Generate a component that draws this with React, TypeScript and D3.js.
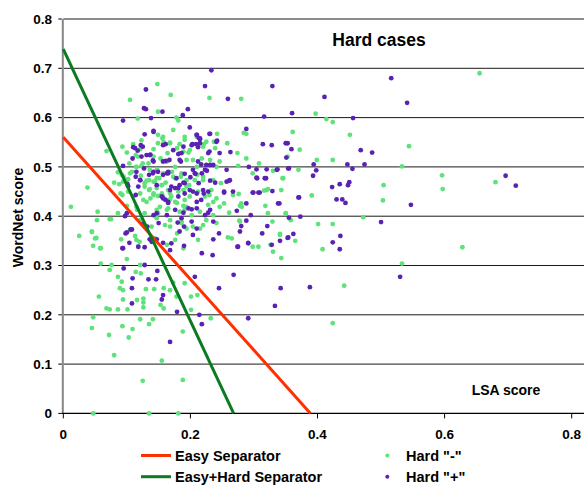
import React, { useEffect, useRef } from 'react'
import * as d3 from 'd3'

// LSA score (x) / WordNet score (y)
const hardMinus: [number, number][] = [
  [0.148,0.668],[0.169,0.646],[0.230,0.640],[0.280,0.638],[0.105,0.636],[0.149,0.612],[0.178,0.600],[0.117,0.598],
  [0.181,0.594],[0.173,0.575],[0.284,0.569],[0.288,0.567],[0.361,0.571],[0.149,0.565],[0.242,0.567],[0.191,0.561],
  [0.156,0.558],[0.123,0.554],[0.158,0.550],[0.093,0.541],[0.110,0.546],[0.168,0.549],[0.183,0.546],[0.221,0.546],
  [0.237,0.551],[0.258,0.548],[0.100,0.529],[0.142,0.536],[0.179,0.538],[0.189,0.531],[0.068,0.532],[0.274,0.528],
  [0.164,0.528],[0.197,0.529],[0.288,0.517],[0.353,0.521],[0.117,0.521],[0.153,0.517],[0.204,0.514],[0.246,0.511],
  [0.275,0.502],[0.308,0.507],[0.104,0.507],[0.123,0.502],[0.086,0.489],[0.147,0.494],[0.171,0.490],[0.211,0.484],
  [0.330,0.492],[0.370,0.494],[0.095,0.480],[0.102,0.475],[0.151,0.477],[0.185,0.480],[0.220,0.473],[0.346,0.477],
  [0.038,0.458],[0.080,0.468],[0.088,0.465],[0.135,0.473],[0.142,0.470],[0.161,0.468],[0.198,0.463],[0.248,0.467],
  [0.320,0.453],[0.343,0.453],[0.093,0.443],[0.147,0.457],[0.155,0.446],[0.181,0.450],[0.230,0.443],[0.267,0.443],
  [0.126,0.433],[0.137,0.436],[0.168,0.434],[0.191,0.433],[0.236,0.429],[0.253,0.426],[0.278,0.421],[0.054,0.409],
  [0.012,0.419],[0.116,0.413],[0.163,0.413],[0.246,0.419],[0.281,0.419],[0.322,0.406],
  [0.655,0.690],[0.397,0.608],[0.414,0.597],[0.424,0.591],[0.451,0.565],[0.372,0.535],[0.544,0.542],[0.399,0.514],
  [0.424,0.514],[0.533,0.501],[0.345,0.477],[0.596,0.483],[0.680,0.469],[0.504,0.463],[0.597,0.455],[0.391,0.442],
  [0.503,0.432],[0.350,0.405],[0.358,0.392],[0.472,0.398],[0.401,0.384],[0.424,0.384],[0.365,0.350],[0.408,0.333],
  [0.343,0.315],[0.628,0.337],[0.533,0.304],[0.442,0.259],[0.424,0.183],
  [0.053,0.392],[0.073,0.394],[0.025,0.360],[0.045,0.368],[0.052,0.356],[0.047,0.340],[0.059,0.335],[0.091,0.353],
  [0.113,0.360],[0.120,0.348],[0.212,0.352],[0.278,0.389],[0.298,0.338],[0.330,0.328],[0.341,0.362],[0.307,0.338],
  [0.059,0.304],[0.076,0.301],[0.073,0.291],[0.086,0.277],[0.092,0.267],[0.089,0.254],[0.094,0.250],[0.056,0.237],
  [0.068,0.213],[0.073,0.211],[0.094,0.231],[0.086,0.211],[0.101,0.211],[0.100,0.313],[0.114,0.287],[0.122,0.284],
  [0.121,0.301],[0.116,0.230],[0.126,0.233],[0.126,0.225],[0.130,0.252],[0.143,0.252],[0.158,0.254],[0.153,0.220],
  [0.158,0.213],[0.168,0.250],[0.173,0.265],[0.178,0.237],[0.191,0.264],[0.201,0.237],[0.201,0.210],[0.211,0.240],
  [0.232,0.193],[0.047,0.195],[0.045,0.173],[0.072,0.159],[0.103,0.154],[0.093,0.177],[0.109,0.171],[0.121,0.191],
  [0.135,0.181],[0.141,0.191],[0.126,0.215],[0.188,0.166],[0.080,0.118],[0.155,0.107],[0.125,0.066],[0.188,0.068],
  [0.047,0.000],[0.135,0.000],[0.181,0.000],
  [0.298,0.487],[0.316,0.452],[0.322,0.455],[0.276,0.445],[0.318,0.421],[0.350,0.406],[0.329,0.389],[0.341,0.364],
  [0.326,0.342],[0.265,0.355],[0.259,0.357],[0.277,0.391],[0.261,0.407],[0.280,0.426],
  [0.045,0.369],[0.050,0.355],[0.058,0.335],[0.075,0.394],[0.086,0.406],[0.092,0.484],[0.094,0.470],[0.090,0.446],
  [0.100,0.421],[0.105,0.372],[0.115,0.352],[0.128,0.467],[0.135,0.453],[0.142,0.446],[0.149,0.441],[0.160,0.434],
  [0.170,0.440],[0.179,0.427],[0.189,0.421],[0.147,0.413],[0.168,0.379],[0.179,0.365],[0.163,0.342],[0.144,0.355],
  [0.118,0.338],[0.105,0.487],[0.115,0.500],[0.136,0.494],[0.147,0.477],[0.155,0.463],[0.165,0.453],[0.176,0.477],
  [0.186,0.487],[0.194,0.460],[0.191,0.413],[0.186,0.389],[0.194,0.375],[0.176,0.352],[0.189,0.335],
  [0.114,0.524],[0.121,0.536],[0.125,0.507],[0.115,0.500],[0.108,0.490],[0.122,0.482],[0.131,0.472],[0.128,0.460],
  [0.136,0.455],[0.144,0.470],[0.148,0.494],[0.157,0.487],[0.149,0.548],[0.157,0.561],[0.168,0.548],[0.163,0.511],
  [0.176,0.500],[0.173,0.480],[0.155,0.463],[0.142,0.443],[0.157,0.440],[0.168,0.446],[0.152,0.419],[0.165,0.416],
  [0.176,0.429],[0.183,0.409],[0.194,0.419],[0.202,0.402],[0.215,0.409],[0.225,0.392],[0.236,0.402],[0.220,0.382],
  [0.204,0.379],[0.186,0.386],[0.168,0.392],[0.147,0.396],[0.139,0.379],[0.189,0.453],[0.199,0.440],[0.212,0.450],
  [0.223,0.440],[0.233,0.453],[0.241,0.436],[0.228,0.423],[0.194,0.473],[0.207,0.473],[0.220,0.480],[0.236,0.473],
  [0.210,0.500],[0.225,0.494],[0.241,0.500],[0.194,0.514],[0.218,0.517],[0.231,0.514],[0.239,0.538],[0.220,0.541],
  [0.199,0.534],[0.183,0.528],[0.191,0.555],[0.210,0.561],[0.225,0.551],[0.142,0.521],[0.134,0.507],[0.100,0.473],
  [0.102,0.450],[0.110,0.440],[0.121,0.446],[0.131,0.429],[0.115,0.419],[0.128,0.406],[0.149,0.406],[0.160,0.382],
  [0.121,0.392],[0.215,0.375],[0.241,0.386]
]

const hardPlus: [number, number][] = [
  [0.130,0.657],[0.223,0.664],[0.233,0.696],[0.259,0.638],[0.329,0.664],[0.127,0.619],[0.130,0.617],[0.156,0.612],
  [0.196,0.617],[0.188,0.605],[0.094,0.594],[0.138,0.599],[0.316,0.602],[0.360,0.609],[0.199,0.580],[0.288,0.577],
  [0.142,0.573],[0.128,0.566],[0.231,0.567],[0.210,0.565],[0.213,0.559],[0.215,0.556],[0.242,0.553],[0.314,0.546],
  [0.328,0.544],[0.350,0.548],[0.353,0.548],[0.161,0.546],[0.203,0.546],[0.110,0.540],[0.113,0.538],[0.117,0.533],
  [0.173,0.534],[0.212,0.540],[0.230,0.531],[0.246,0.528],[0.263,0.530],[0.131,0.524],[0.137,0.525],[0.181,0.526],
  [0.109,0.517],[0.123,0.521],[0.141,0.513],[0.161,0.512],[0.167,0.514],[0.185,0.511],[0.217,0.505],[0.225,0.504],
  [0.236,0.504],[0.292,0.500],[0.304,0.495],[0.320,0.495],[0.336,0.494],[0.354,0.497],[0.127,0.497],[0.115,0.490],
  [0.142,0.490],[0.165,0.487],[0.191,0.486],[0.204,0.494],[0.226,0.492],[0.257,0.494],[0.262,0.473],[0.135,0.484],
  [0.157,0.484],[0.178,0.477],[0.200,0.479],[0.208,0.486],[0.231,0.472],[0.305,0.477],[0.319,0.477],[0.101,0.465],
  [0.189,0.468],[0.213,0.467],[0.239,0.468],[0.257,0.470],[0.329,0.451],[0.114,0.443],[0.168,0.453],[0.176,0.457],
  [0.204,0.450],[0.221,0.446],[0.253,0.448],[0.299,0.448],[0.309,0.448],[0.340,0.426],[0.370,0.438],[0.161,0.433],
  [0.210,0.429],[0.217,0.433],[0.288,0.426],[0.100,0.406],[0.147,0.406],[0.189,0.407],[0.202,0.414],[0.228,0.407],
  [0.273,0.411],[0.295,0.402],
  [0.516,0.680],[0.411,0.642],[0.541,0.630],[0.456,0.599],[0.359,0.536],[0.468,0.534],[0.486,0.529],[0.351,0.519],
  [0.394,0.505],[0.447,0.505],[0.474,0.505],[0.355,0.497],[0.455,0.496],[0.398,0.493],[0.393,0.482],[0.696,0.482],
  [0.712,0.462],[0.423,0.459],[0.435,0.465],[0.450,0.469],[0.448,0.463],[0.371,0.438],[0.430,0.434],[0.439,0.434],
  [0.444,0.427],[0.547,0.423],[0.355,0.397],[0.373,0.399],[0.500,0.388],[0.362,0.364],[0.353,0.356],[0.424,0.347],
  [0.436,0.360],[0.435,0.333],[0.530,0.277],[0.388,0.256],[0.342,0.254],
  [0.097,0.400],[0.106,0.373],[0.098,0.365],[0.104,0.346],[0.093,0.335],[0.118,0.338],[0.125,0.384],[0.132,0.379],
  [0.136,0.353],[0.139,0.348],[0.147,0.353],[0.150,0.386],[0.157,0.346],[0.170,0.345],[0.180,0.387],[0.190,0.379],
  [0.190,0.340],[0.204,0.362],[0.218,0.325],[0.235,0.321],[0.245,0.365],[0.236,0.353],[0.274,0.338],[0.278,0.369],
  [0.291,0.345],[0.313,0.365],[0.328,0.342],[0.341,0.350],[0.354,0.357],
  [0.095,0.294],[0.109,0.274],[0.108,0.254],[0.108,0.223],[0.128,0.301],[0.134,0.272],[0.148,0.289],[0.146,0.272],
  [0.157,0.240],[0.155,0.231],[0.179,0.206],[0.214,0.200],[0.218,0.181],[0.245,0.254],[0.207,0.277],[0.268,0.281],
  [0.333,0.218],[0.291,0.193],[0.168,0.145],
  [0.304,0.478],[0.317,0.477],[0.337,0.495],[0.307,0.448],[0.298,0.448],[0.267,0.450],[0.253,0.450],[0.261,0.472],
  [0.338,0.426],[0.321,0.380],[0.275,0.338],[0.291,0.346],[0.280,0.380],[0.288,0.391],
  [0.094,0.502],[0.102,0.461],[0.121,0.473],[0.149,0.490],[0.163,0.487],[0.155,0.440],[0.165,0.427],[0.183,0.463],
  [0.191,0.446],[0.100,0.367],[0.094,0.335],[0.108,0.373],[0.183,0.369],[0.168,0.331],[0.128,0.337],
  [0.142,0.571],[0.122,0.544],[0.125,0.541],[0.136,0.524],[0.142,0.511],[0.157,0.544],[0.186,0.528],[0.183,0.514],
  [0.189,0.541],[0.202,0.544],[0.209,0.546],[0.215,0.548],[0.210,0.565],[0.215,0.558],[0.230,0.567],[0.241,0.551],
  [0.228,0.528],[0.141,0.487],[0.157,0.511],[0.165,0.490],[0.121,0.473],[0.118,0.460],[0.114,0.480],[0.147,0.463],
  [0.170,0.460],[0.181,0.457],[0.191,0.467],[0.199,0.453],[0.207,0.487],[0.218,0.487],[0.223,0.494],[0.231,0.504],
  [0.212,0.511],[0.157,0.436],[0.165,0.429],[0.181,0.440],[0.176,0.413],[0.163,0.402],[0.197,0.416],[0.210,0.416],
  [0.223,0.402],[0.231,0.413],[0.210,0.446],[0.220,0.453],[0.228,0.450],[0.142,0.402],[0.186,0.396],[0.202,0.389],
  [0.236,0.389],[0.210,0.375]
]

// separators, endpoints on the axes
const easySep: [number, number][] = [[0, 0.56], [0.389, 0]]
const easyHardSep: [number, number][] = [[0, 0.739], [0.268, 0]]

const xTicks = [0, 0.2, 0.4, 0.6, 0.8]
const yTicks = [0, 0.1, 0.2, 0.3, 0.4, 0.5, 0.6, 0.7, 0.8]

const W = 584
const H = 485
const GREEN_DOT = '#5fe27a'
const PURPLE_DOT = '#5a22b4'
const RED = '#ff3000'
const DARK_GREEN = '#0c7a22'
const FONT = 'Liberation Sans, Arial, sans-serif'

export default function App() {
  const ref = useRef<SVGSVGElement>(null)

  useEffect(() => {
    const svg = d3.select(ref.current)
    svg.selectAll('*').remove()

    const x = d3.scaleLinear().domain([0, 0.8]).range([63.3, 571.7])
    const y = d3.scaleLinear().domain([0, 0.8]).range([413.4, 19])

    // grid
    svg.append('g')
      .selectAll('line')
      .data(yTicks.slice(1))
      .enter()
      .append('line')
      .attr('x1', x(0))
      .attr('x2', W)
      .attr('y1', d => y(d))
      .attr('y2', d => y(d))
      .attr('stroke', '#1a1a1a')
      .attr('stroke-width', 1)

    // y axis
    svg.append('line')
      .attr('x1', x(0) - 0.5).attr('x2', x(0) - 0.5)
      .attr('y1', y(0.8)).attr('y2', y(0))
      .attr('stroke', '#868686').attr('stroke-width', 2)
    const yt = svg.append('g')
    yt.selectAll('line').data(yTicks).enter().append('line')
      .attr('x1', x(0) - 5).attr('x2', x(0) - 1.5)
      .attr('y1', d => y(d)).attr('y2', d => y(d))
      .attr('stroke', '#000')
    yt.selectAll('text').data(yTicks).enter().append('text')
      .attr('x', 52)
      .attr('y', d => y(d) + 4.7)
      .attr('text-anchor', 'end')
      .attr('font-family', FONT).attr('font-weight', 'bold').attr('font-size', 13.5)
      .text(d => d3.format('.1~f')(d))

    // x axis
    svg.append('line')
      .attr('x1', x(0) - 1.5).attr('x2', W)
      .attr('y1', y(0)).attr('y2', y(0))
      .attr('stroke', '#000').attr('stroke-width', 1.3)
    const xt = svg.append('g')
    xt.selectAll('line').data(xTicks).enter().append('line')
      .attr('x1', d => x(d)).attr('x2', d => x(d))
      .attr('y1', y(0)).attr('y2', y(0) + 5)
      .attr('stroke', '#000')
    xt.selectAll('text').data(xTicks).enter().append('text')
      .attr('x', d => x(d))
      .attr('y', 439)
      .attr('text-anchor', 'middle')
      .attr('font-family', FONT).attr('font-weight', 'bold').attr('font-size', 13.5)
      .text(d => d3.format('.1~f')(d))

    // points
    svg.append('g').selectAll('circle').data(hardMinus).enter().append('circle')
      .attr('cx', d => x(d[0])).attr('cy', d => y(d[1])).attr('r', 2.4)
      .attr('fill', GREEN_DOT)
    svg.append('g').selectAll('circle').data(hardPlus).enter().append('circle')
      .attr('cx', d => x(d[0])).attr('cy', d => y(d[1])).attr('r', 2.4)
      .attr('fill', PURPLE_DOT)

    // separators
    const line = d3.line<[number, number]>().x(d => x(d[0])).y(d => y(d[1]))
    svg.append('path').attr('d', line(easySep)).attr('fill', 'none')
      .attr('stroke', RED).attr('stroke-width', 3)
    svg.append('path').attr('d', line(easyHardSep)).attr('fill', 'none')
      .attr('stroke', DARK_GREEN).attr('stroke-width', 3)

    // titles
    svg.append('text').attr('x', 379).attr('y', 46)
      .attr('text-anchor', 'middle')
      .attr('font-family', FONT).attr('font-weight', 'bold').attr('font-size', 17.5)
      .text('Hard cases')
    svg.append('text').attr('x', 506).attr('y', 395)
      .attr('text-anchor', 'middle')
      .attr('font-family', FONT).attr('font-weight', 'bold').attr('font-size', 14)
      .text('LSA score')
    svg.append('text')
      .attr('transform', 'translate(23,217.5) rotate(-90)')
      .attr('text-anchor', 'middle')
      .attr('font-family', FONT).attr('font-weight', 'bold').attr('font-size', 14)
      .text('WordNet score')

    // legend
    const legend = [
      { name: 'Easy Separator', type: 'line', color: RED, lx: 141, ly: 455.5 },
      { name: 'Easy+Hard Separator', type: 'line', color: DARK_GREEN, lx: 141, ly: 476.7 },
      { name: 'Hard "-"', type: 'dot', color: GREEN_DOT, lx: 387.3, ly: 455.5 },
      { name: 'Hard "+"', type: 'dot', color: PURPLE_DOT, lx: 387.3, ly: 476.7 }
    ]
    const lg = svg.append('g').selectAll('g').data(legend).enter().append('g')
    lg.filter(d => d.type === 'line').append('line')
      .attr('x1', d => d.lx).attr('x2', d => d.lx + 30)
      .attr('y1', d => d.ly).attr('y2', d => d.ly)
      .attr('stroke', d => d.color).attr('stroke-width', 3)
    lg.filter(d => d.type === 'dot').append('circle')
      .attr('cx', d => d.lx).attr('cy', d => d.ly).attr('r', 2)
      .attr('fill', d => d.color)
    lg.append('text')
      .attr('x', d => (d.type === 'line' ? d.lx + 34 : d.lx + 18.7))
      .attr('y', d => d.ly + 5.5)
      .attr('font-family', FONT).attr('font-weight', 'bold').attr('font-size', 14.5)
      .text(d => d.name)
  }, [])

  return (
    <svg ref={ref} width={W} height={H}
      style={{ position: 'absolute', left: 0, top: 0, background: '#fff' }} />
  )
}
